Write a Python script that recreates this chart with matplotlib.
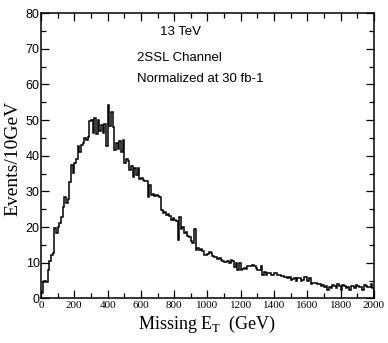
"""
Missing E_T distribution, 2SSL channel, 13 TeV (normalized at 30 fb-1).
Step histogram, 10 GeV bins from 0 to 2000 GeV.
"""
import numpy as np
import matplotlib
matplotlib.use("Agg")
import matplotlib.pyplot as plt
from matplotlib.ticker import MultipleLocator

# ---------------------------------------------------------------------------
# Data: events per 10 GeV bin (bin low edges 0..1990)
# ---------------------------------------------------------------------------
BIN_WIDTH = 10
events = [
    1.5, 4.5, 4.8, 4.6, 8.0, 10.5, 12.3, 12.6, 19.8, 18.2,     # 0-100
    20.0, 21.0, 22.8, 25.5, 28.3, 26.8, 27.8, 32.5, 37.5, 35.2,  # 100-200
    38.0, 39.2, 42.8, 41.0, 43.0, 43.5, 45.0, 44.5, 45.3, 49.8,  # 200-300
    50.0, 46.5, 50.5, 46.2, 50.0, 47.0, 48.6, 46.4, 49.0, 42.6,  # 300-400
    54.2, 48.4, 52.3, 48.0, 41.5, 43.5, 42.0, 44.2, 41.0, 44.5,  # 400-500
    38.0, 39.0, 38.5, 36.0, 37.0, 34.0, 36.5, 34.5, 36.5, 33.5,  # 500-600
    33.8, 33.2, 33.0, 32.8, 28.5, 31.8, 29.0, 29.2, 28.8, 29.0,  # 600-700
    28.7, 28.5, 24.7, 24.0, 24.3, 23.5, 23.8, 23.2, 22.0, 22.5,  # 700-800
    22.0, 21.8, 16.3, 22.8, 19.5, 20.0, 18.4, 18.7, 17.6, 17.2,  # 800-900
    16.0, 15.5, 19.4, 13.7, 14.0, 13.5, 13.8, 13.2, 12.3, 12.2,  # 900-1000
    12.4, 13.0, 12.8, 11.9, 11.6, 11.7, 11.0, 11.2, 10.7, 10.6,  # 1000-1100
    10.2, 10.3, 10.5, 10.0, 10.7, 10.5, 8.7, 10.0, 8.0, 9.8,     # 1100-1200
    8.0, 8.2, 8.5, 8.3, 9.0, 9.0, 9.2, 9.3, 9.1, 8.5,            # 1200-1300
    8.0, 7.9, 9.2, 6.5, 7.3, 6.6, 7.0, 7.1, 6.5, 6.6,            # 1300-1400
    7.0, 7.1, 6.5, 6.6, 6.3, 6.4, 6.0, 6.1, 5.8, 5.9,            # 1400-1500
    5.3, 5.5, 5.8, 5.0, 5.8, 5.6, 5.0, 5.1, 6.0, 5.9,            # 1500-1600
    5.0, 5.7, 4.1, 4.2, 4.3, 4.4, 3.9, 4.0, 3.6, 3.7,            # 1600-1700
    3.3, 3.4, 2.4, 3.3, 2.8, 3.7, 3.6, 2.8, 4.1, 3.6,            # 1700-1800
    2.4, 3.7, 3.6, 3.0, 3.1, 2.4, 3.5, 3.4, 2.8, 3.7,            # 1800-1900
    3.6, 3.3, 3.2, 2.4, 3.7, 3.6, 3.3, 3.2, 4.1, 2.8,            # 1900-2000
]
edges = np.arange(len(events) + 1) * BIN_WIDTH

x_ticks = [0, 200, 400, 600, 800, 1000, 1200, 1400, 1600, 1800, 2000]
y_ticks = [0, 10, 20, 30, 40, 50, 60, 70, 80]

annotations = ["13 TeV", "2SSL Channel", "Normalized at 30 fb-1"]

# ---------------------------------------------------------------------------
# Plot
# ---------------------------------------------------------------------------
fig = plt.figure(figsize=(3.88, 3.43), dpi=100)
ax = fig.add_axes([0.1057, 0.130, 0.858, 0.832])

ax.stairs(events, edges, color="black", linewidth=1.1)

ax.set_xlim(0, 2000)
ax.set_ylim(0, 80)
ax.set_xticks(x_ticks)
ax.set_yticks(y_ticks)
ax.xaxis.set_minor_locator(MultipleLocator(100))
ax.yaxis.set_minor_locator(MultipleLocator(5))

ax.tick_params(which="both", direction="in", top=True, right=True, width=0.9)
ax.tick_params(which="major", length=6)
ax.tick_params(which="minor", length=3.5)
ax.tick_params(axis="x", pad=2)
ax.tick_params(axis="y", pad=1)

for lab in ax.get_xticklabels():
    lab.set_family("Liberation Serif")
    lab.set_fontsize(8)
for lab in ax.get_yticklabels():
    lab.set_family("Liberation Sans")
    lab.set_fontsize(9)

for sp in ax.spines.values():
    sp.set_linewidth(1.1)

ax.set_xlabel(r"Missing E$_\mathregular{T}$  (GeV)", family="Liberation Serif",
              fontsize=13)
ax.xaxis.set_label_coords(0.5, -0.055, transform=ax.transAxes)
ax.set_ylabel("Events/10GeV", family="Liberation Serif", fontsize=14)
ax.yaxis.set_label_coords(-0.058, 0.49)

ax.text(715, 74.6, annotations[0], family="Liberation Sans", fontsize=9.5,
        va="center", ha="left")
ax.text(577, 67.5, annotations[1], family="Liberation Sans", fontsize=9.5,
        va="center", ha="left")
ax.text(577, 61.4, annotations[2], family="Liberation Sans", fontsize=9.5,
        va="center", ha="left")

fig.savefig("out.png", dpi=100)
